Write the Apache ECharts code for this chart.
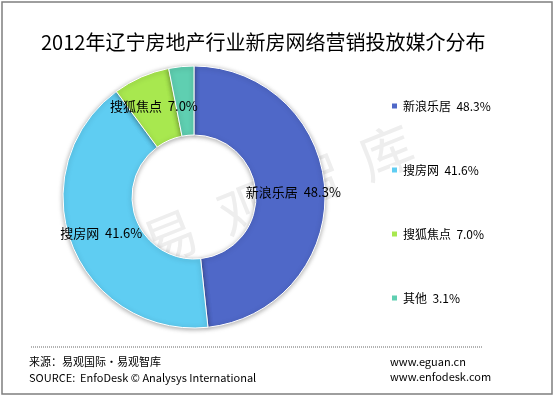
<!DOCTYPE html>
<html>
<head>
    <meta charset="UTF-8">
    <script src="https://cdn.jsdelivr.net/npm/echarts@6/dist/echarts.min.js"></script>
    <style>
        html, body { margin: 0; padding: 0; background: #fff; }
        #main { width: 555px; height: 397px; }
    </style>
</head>
<body>
<div id="main"></div>
<script type="text/javascript">
    var media_names = ['新浪乐居', '搜房网', '搜狐焦点', '其他'];
    var media_share = [48.3, 41.6, 7.0, 3.1];
    var media_colors = ['#4f68c8', '#5fcdf2', '#a8e84f', '#5fcfb1'];
    var show_label = [true, true, true, false];

    var font = '"Noto Sans CJK SC", "Noto Sans", sans-serif';

    var pieData = [];
    for (var i = 0; i < media_names.length; i++) {
        pieData.push({
            name: media_names[i],
            value: media_share[i],
            label: {show: show_label[i]}
        });
    }

    function shareOf(name) {
        var idx = media_names.indexOf(name);
        return media_share[idx].toFixed(1) + '%';
    }

    // watermark chars
    var mark = ['易', '观', '智', '库'];
    var markPos = [[170, 237], [246, 208], [315, 180], [386, 152]];
    var graphics = [];
    for (var k = 0; k < mark.length; k++) {
        graphics.push({
            type: 'text', x: markPos[k][0], y: markPos[k][1], rotation: 0.38, z: -10,
            style: {text: mark[k], font: '54px ' + font, fill: '#eeeeee', align: 'center', verticalAlign: 'middle'}
        });
    }
    graphics.push(
        {type: 'rect', shape: {x: 2, y: 2, width: 550, height: 392}, style: {fill: null, stroke: '#7f7f7f', lineWidth: 1.5}},
        {type: 'line', shape: {x1: 31, y1: 347, x2: 483, y2: 347}, style: {stroke: '#666', lineWidth: 1, lineDash: [1, 1]}},
        {type: 'text', x: 29, y: 362, style: {text: '来源：易观国际·易观智库', font: '11px ' + font, fill: '#000', verticalAlign: 'middle'}},
        {type: 'text', x: 29, y: 378, style: {text: 'SOURCE:  EnfoDesk © Analysys International', font: '11px ' + font, fill: '#000', verticalAlign: 'middle'}},
        {type: 'text', x: 390, y: 362, style: {text: 'www.eguan.cn', font: '11px ' + font, fill: '#000', verticalAlign: 'middle'}},
        {type: 'text', x: 390, y: 377, style: {text: 'www.enfodesk.com', font: '11px ' + font, fill: '#000', verticalAlign: 'middle'}}
    );

    var myChart = echarts.init(document.getElementById('main'));
    var option = {
        animation: false,
        color: media_colors,
        title: {
            text: '2012年辽宁房地产行业新房网络营销投放媒介分布',
            left: 36,
            top: 27,
            textStyle: {fontFamily: font, fontSize: 20, fontWeight: 'normal', color: '#000'}
        },
        legend: {
            orient: 'vertical',
            left: 385,
            top: 95,
            itemWidth: 7,
            itemHeight: 7,
            itemGap: 52,
            icon: 'rect',
            data: media_names,
            formatter: function (name) {
                return name + '  ' + shareOf(name);
            },
            textStyle: {fontFamily: font, fontSize: 12, color: '#000'}
        },
        graphic: graphics,
        series: [
            {
                name: '媒介分布',
                type: 'pie',
                center: [194, 197],
                radius: [62, 131],
                startAngle: 90,
                clockwise: true,
                avoidLabelOverlap: false,
                data: pieData,
                itemStyle: {
                    borderColor: '#fff',
                    borderWidth: 1,
                    shadowBlur: 5,
                    shadowColor: 'rgba(0,0,0,0.35)',
                    shadowOffsetY: 1
                },
                label: {
                    position: 'inside',
                    formatter: function (p) {
                        return p.name + '  ' + p.value.toFixed(1) + '%';
                    },
                    fontFamily: font,
                    fontSize: 13,
                    color: '#000'
                },
                labelLine: {show: false}
            }
        ]
    };
    myChart.setOption(option);
</script>
</body>
</html>
